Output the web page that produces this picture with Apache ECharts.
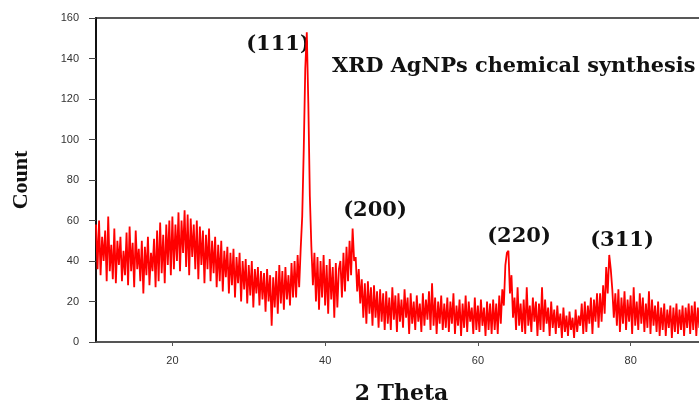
<!DOCTYPE html>
<html>
<head>
    <meta charset="utf-8">
    <title>XRD AgNPs</title>
    <style type="text/css">
        html, body {
            margin: 0;
            padding: 0;
            width: 100%;
            height: 100%;
            background: #fff;
            overflow: hidden;
        }
        /* 图比窗口宽一点，右边框落在窗口外 */
        #main {
            width: 710px;
            height: 402px;
        }
    </style>
</head>
<body>
    <div id="main"></div>
    <script src="https://cdn.jsdelivr.net/npm/echarts@6.0.0/dist/echarts.min.js"></script>
    <script>
        // 2θ 从 10° 开始，步长 0.2°
        var thetaStart = 10;
        var thetaStep = 0.2;
        // 计数 (从图上读出的数值，每行 2°)
        var counts = [
            58, 36, 60, 33, 52, 40, 55, 30, 62, 35,
            48, 31, 56, 29, 50, 38, 52, 30, 45, 33,
            54, 28, 57, 35, 49, 27, 55, 36, 46, 30,
            50, 24, 47, 33, 52, 28, 44, 35, 51, 27,
            55, 30, 59, 34, 53, 29, 58, 38, 60, 33,
            62, 36, 58, 40, 64, 35, 60, 44, 65, 37,
            63, 33, 61, 42, 58, 36, 60, 31, 57, 38,
            55, 29, 53, 36, 56, 30, 50, 34, 52, 27,
            48, 30, 50, 25, 45, 32, 47, 24, 44, 28,
            46, 22, 42, 29, 44, 20, 40, 26, 41, 19,
            38, 23, 40, 17, 36, 24, 37, 18, 35, 21,
            34, 15, 36, 20, 33, 8, 32, 17, 35, 14,
            38, 19, 35, 16, 37, 21, 33, 18, 39, 22,
            40, 22, 43, 27, 46, 62, 95, 135, 153, 118,
            72, 47, 28, 44, 20, 42, 16, 40, 22, 43,
            18, 38, 14, 41, 21, 37, 12, 39, 17, 36,
            40, 22, 44, 25, 47, 30, 50, 33, 56, 40,
            42, 25, 36, 19, 31, 12, 29, 9, 30, 14,
            27, 8, 28, 12, 25, 7, 26, 10, 24, 6,
            25, 9, 22, 6, 27, 11, 23, 5, 24, 10,
            21, 7, 26, 12, 22, 4, 24, 9, 20, 6,
            23, 10, 19, 5, 24, 8, 21, 11, 25, 6,
            29, 8, 22, 4, 20, 9, 23, 6, 19, 7,
            22, 5, 20, 9, 24, 4, 18, 8, 21, 3,
            19, 7, 23, 5, 20, 10, 17, 4, 22, 6,
            18, 5, 21, 8, 17, 3, 20, 6, 19, 4,
            21, 6, 19, 4, 23, 9, 26, 18, 38, 44,
            45, 24, 33, 12, 22, 6, 27, 8, 19, 5,
            21, 4, 27, 8, 18, 5, 22, 10, 20, 3,
            19, 6, 27, 5, 21, 9, 17, 3, 20, 7,
            16, 4, 18, 7, 14, 2, 17, 5, 13, 3,
            15, 6, 12, 2, 16, 5, 13, 8, 19, 4,
            20, 5, 18, 9, 22, 4, 21, 10, 24, 7,
            24, 10, 28, 14, 37, 24, 43, 36, 26, 12,
            24, 8, 26, 5, 22, 9, 25, 6, 21, 10,
            23, 4, 27, 8, 20, 6, 24, 9, 22, 5,
            19, 7, 25, 4, 21, 8, 18, 5, 20, 3,
            17, 6, 19, 3, 16, 7, 18, 2, 17, 5,
            19, 4, 16, 6, 18, 3, 17, 7, 19, 4,
            18, 6, 20, 3, 17, 7, 21, 5, 19, 8,
            20
        ];
        // 刻度
        var xTicks = [20, 40, 60, 80];
        // 晶面标注
        var peakLabels = ['(111)', '(200)', '(220)', '(311)'];
        var chartTitle = 'XRD AgNPs chemical synthesis';

        var points = counts.map(function (c, i) {
            return [+(thetaStart + i * thetaStep).toFixed(1), c];
        });

        var serif = '"DejaVu Serif", "Liberation Serif", serif';
        var sans = '"Liberation Sans", Arial, sans-serif';

        function peakText(txt, x, y) {
            return {
                type: 'text', x: x, y: y,
                style: { text: txt, font: 'bold 21px ' + serif, fill: '#111', align: 'center', verticalAlign: 'middle' }
            };
        }

        var myChart = echarts.init(document.getElementById('main'));
        var option = {
            animation: false,
            grid: {
                left: 96,
                top: 18,
                right: 3,
                bottom: 60,
                outerBoundsMode: 'none',
                show: true,
                borderColor: '#222',
                borderWidth: 1.5
            },
            xAxis: {
                type: 'value',
                min: 10,
                max: 90,
                name: '2 Theta',
                nameLocation: 'middle',
                nameGap: 41,
                nameTextStyle: {
                    fontFamily: serif,
                    fontWeight: 'bold',
                    fontSize: 22,
                    color: '#111'
                },
                splitLine: { show: false },
                axisLine: { lineStyle: { color: '#555', width: 1.5 } },
                axisTick: { customValues: xTicks, length: 4, lineStyle: { color: '#555' } },
                axisLabel: {
                    customValues: xTicks,
                    margin: 13,
                    fontFamily: sans,
                    fontSize: 11,
                    color: '#333'
                }
            },
            yAxis: {
                type: 'value',
                min: 0,
                max: 160,
                interval: 20,
                name: 'Count',
                nameLocation: 'middle',
                nameGap: 64,
                nameRotate: 90,
                nameTextStyle: {
                    fontFamily: '"Liberation Serif", serif',
                    fontWeight: 'bold',
                    fontSize: 22,
                    color: '#111'
                },
                splitLine: { show: false },
                axisLine: { show: true, lineStyle: { color: '#111', width: 2 } },
                axisTick: { show: true, length: 7, lineStyle: { color: '#444' } },
                axisLabel: {
                    margin: 17,
                    fontFamily: sans,
                    fontSize: 11,
                    color: '#333'
                }
            },
            series: [{
                type: 'line',
                data: points,
                showSymbol: false,
                symbol: 'none',
                lineStyle: { color: '#ff0000', width: 1.8 },
                z: 1
            }],
            graphic: [
                {
                    type: 'text', x: 332, y: 67,
                    style: { text: chartTitle, font: 'bold 20.8px ' + serif, fill: '#111', verticalAlign: 'middle' }
                },
                peakText(peakLabels[0], 278, 45),
                peakText(peakLabels[1], 375, 211),
                peakText(peakLabels[2], 519, 237),
                peakText(peakLabels[3], 622, 241)
            ]
        };
        myChart.setOption(option);
    </script>
</body>
</html>
